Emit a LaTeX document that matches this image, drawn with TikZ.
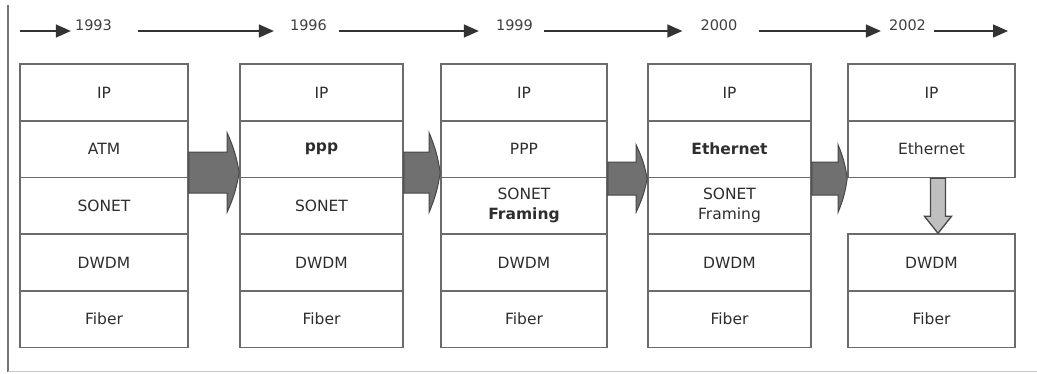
\documentclass[tikz,border=0pt]{standalone}
\usepackage{fontspec}
\setmainfont{DejaVu Sans}
\usetikzlibrary{arrows.meta,calc}

% wide block arrow between two protocol stacks
% #1 source node, #2 target node, #3 mid y, #4 shaft half height,
% #5 head half height, #6 head length
\newcommand\fatarrow[6]{%
  \coordinate (fa-s) at (#1.east |- 0,#3);
  \coordinate (fa-t) at (#2.west |- 0,#3);
  \filldraw[fatarrow] ($(fa-s)+(0,-#4)$) -- ($(fa-t)+(-#6,-#4)$)
    -- ($(fa-t)+(-#6,-#5)$) to[bend left=7] (fa-t)
    to[bend left=7] ($(fa-t)+(-#6,#5)$) -- ($(fa-t)+(-#6,#4)$)
    -- ($(fa-s)+(0,#4)$) -- cycle;}

\begin{document}
\begin{tikzpicture}[x=1pt,y=-1pt,
  layer/.style={draw=black!58, line width=1.6pt, fill=white,
    minimum width=#1, minimum height=56.7pt, inner sep=0pt,
    text=black!82, align=center, font=\fontsize{15.5}{20}\selectfont},
  year/.style={inner sep=0pt, text=black!75, font=\fontsize{14.5}{16}\selectfont},
  timearrow/.style={draw=black!80, line width=1.4pt,
    -{Triangle[length=15pt,width=13pt]}},
  fatarrow/.style={fill=black!56, draw=black!72, line width=1pt},
  downarrow/.style={fill=black!25, draw=black!72, line width=1.3pt}]

\useasboundingbox (0,0) rectangle (1037,373);

% frame edges
\draw[black!55, line width=2pt] (8,5) -- (8,372);
\draw[black!22, line width=1.5pt] (8,371.5) -- (1037,371.5);

% time line
\node[year] (y1993) at (93.5,25) {1993};
\node[year] (y1996) at (308.5,25) {1996};
\node[year] (y1999) at (514.5,25) {1999};
\node[year] (y2000) at (719,25) {2000};
\node[year] (y2002) at (907.5,25) {2002};
\coordinate (tstart) at (20,31);
\coordinate (tend) at (1008,31);
\draw[timearrow, shorten >=4pt] (tstart) -- (y1993.west |- tstart);
\draw[timearrow, shorten <=26pt, shorten >=16pt] (y1993.east |- tstart) -- (y1996.west |- tstart);
\draw[timearrow, shorten <=12pt, shorten >=17pt] (y1996.east |- tstart) -- (y1999.west |- tstart);
\draw[timearrow, shorten <=11pt, shorten >=18pt] (y1999.east |- tstart) -- (y2000.west |- tstart);
\draw[timearrow, shorten <=21pt, shorten >=8pt] (y2000.east |- tstart) -- (y2002.west |- tstart);
\draw[timearrow, shorten <=8pt] (y2002.east |- tstart) -- (tend);

% 1993 stack
\node[layer=168pt] (s1r1) at (104,92.35) {IP};
\node[layer=168pt] (s1r2) at (104,149.05) {ATM};
\node[layer=168pt] (s1r3) at (104,205.75) {SONET};
\node[layer=168pt] (s1r4) at (104,262.45) {DWDM};
\node[layer=168pt] (s1r5) at (104,319.15) {Fiber};

% 1996 stack
\node[layer=163pt] (s2r1) at (321.5,92.35) {IP};
\node[layer=163pt] (s2r2) at (321.5,149.05) {\textbf{ppp}};
\node[layer=163pt] (s2r3) at (321.5,205.75) {SONET};
\node[layer=163pt] (s2r4) at (321.5,262.45) {DWDM};
\node[layer=163pt] (s2r5) at (321.5,319.15) {Fiber};

% 1999 stack
\node[layer=166pt] (s3r1) at (524,92.35) {IP};
\node[layer=166pt] (s3r2) at (524,149.05) {PPP};
\node[layer=166pt] (s3r3) at (524,205.75) {SONET\\\textbf{Framing}};
\node[layer=166pt] (s3r4) at (524,262.45) {DWDM};
\node[layer=166pt] (s3r5) at (524,319.15) {Fiber};

% 2000 stack
\node[layer=163pt] (s4r1) at (729.5,92.35) {IP};
\node[layer=163pt] (s4r2) at (729.5,149.05) {\textbf{Ethernet}};
\node[layer=163pt] (s4r3) at (729.5,205.75) {SONET\\Framing};
\node[layer=163pt] (s4r4) at (729.5,262.45) {DWDM};
\node[layer=163pt] (s4r5) at (729.5,319.15) {Fiber};

% 2002 stack
\node[layer=167pt] (s5r1) at (931.5,92.35) {IP};
\node[layer=167pt] (s5r2) at (931.5,149.05) {Ethernet};
\node[layer=167pt] (s5r4) at (931.5,262.45) {DWDM};
\node[layer=167pt] (s5r5) at (931.5,319.15) {Fiber};

% transitions between stacks
\fatarrow{s1r2}{s2r2}{172.5}{20.5}{39.5}{12}
\fatarrow{s2r2}{s3r2}{172.5}{20.5}{39.5}{11}
\fatarrow{s3r2}{s4r2}{178.5}{16.5}{33.5}{11}
\fatarrow{s4r2}{s5r2}{178.5}{16.5}{33.5}{9}

% Ethernet directly over DWDM
\coordinate (da-s) at ($(s5r2.south)+(6.5,0)$);
\coordinate (da-t) at ($(s5r4.north)+(6.5,0)$);
\filldraw[downarrow] ($(da-s)+(-7.5,0)$) -- ($(da-t)+(-7.5,-17)$)
  -- ($(da-t)+(-13.5,-17)$) -- (da-t) -- ($(da-t)+(13.5,-17)$)
  -- ($(da-t)+(7.5,-17)$) -- ($(da-s)+(7.5,0)$) -- cycle;

\end{tikzpicture}
\end{document}
